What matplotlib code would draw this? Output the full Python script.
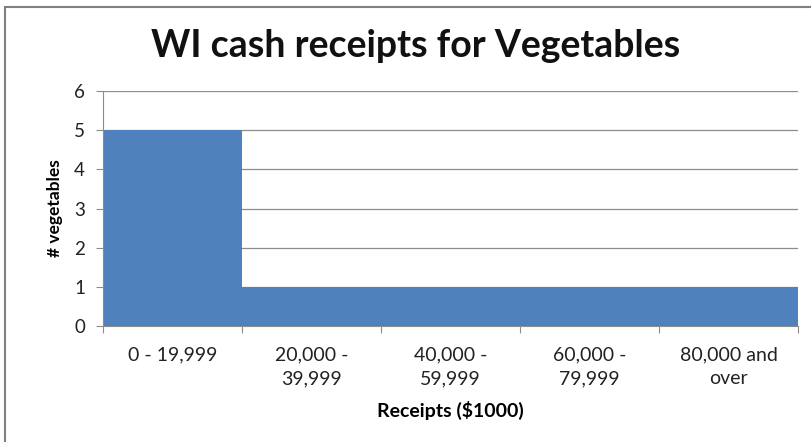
import matplotlib
matplotlib.use('Agg')
import matplotlib.pyplot as plt
from matplotlib.patches import Rectangle

categories = ['0 - 19,999', '20,000 -\n39,999', '40,000 -\n59,999', '60,000 -\n79,999', '80,000 and\nover']
counts = [5, 1, 1, 1, 1]

plt.rcParams['font.family'] = ['Lato', 'DejaVu Sans']

fig = plt.figure(figsize=(8.11, 4.42), dpi=100)
ax = fig.add_axes([0.127, 0.2624, 0.857, 0.5316])

ax.bar(range(len(counts)), counts, width=1.0, align='edge', color='#4F81BD', zorder=2)
ax.set_xlim(0, len(counts))
ax.set_ylim(0, 6)
ax.set_yticks(range(0, 7))
ax.yaxis.grid(True, color='#8c8c8c', linewidth=0.9, zorder=0)

ax.set_xticks(range(0, len(counts) + 1))
ax.set_xticklabels([])
ax.set_xticks([i + 0.5 for i in range(len(counts))], minor=True)
ax.set_xticklabels(categories, minor=True, fontsize=14, color='#222222', linespacing=1.45)
ax.tick_params(axis='x', which='minor', length=0, pad=15)
ax.tick_params(axis='x', which='major', length=5, color='#8c8c8c', direction='out')
ax.tick_params(axis='y', length=5, color='#8c8c8c', labelsize=13.5, labelcolor='#222222', pad=8)

for s in ['top', 'right']:
    ax.spines[s].set_visible(False)
for s in ['left', 'bottom']:
    ax.spines[s].set_color('#8c8c8c')

ax.set_xlabel('Receipts ($1000)', fontsize=14, fontweight='bold', labelpad=10)
ax.set_ylabel('# vegetables', fontsize=12.5, fontweight='bold', labelpad=8)
fig.text(0.512, 0.895, 'WI cash receipts for Vegetables', ha='center', va='center',
         fontsize=27, fontweight='bold', color='#111111')

# outer chart border (cut off on the right and bottom)
fig.patches.append(Rectangle((5 / 811, -0.1), 1.0, 1 - 7 / 442 + 0.1, transform=fig.transFigure,
                             fill=False, edgecolor='#808080', linewidth=1.5))

fig.savefig('out.png', dpi=100)
